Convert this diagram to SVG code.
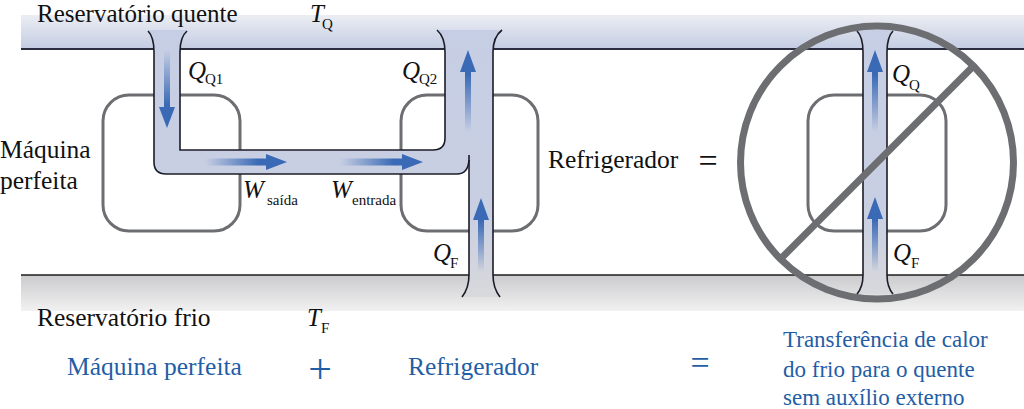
<svg xmlns="http://www.w3.org/2000/svg" width="1024" height="409" viewBox="0 0 1024 409">
<defs>
<linearGradient id="hotG" x1="0" y1="0" x2="0" y2="1"><stop offset="0" stop-color="#eceef3"/><stop offset="1" stop-color="#c3cce2"/></linearGradient>
<linearGradient id="coldG" x1="0" y1="0" x2="0" y2="1"><stop offset="0" stop-color="#cbcbcd"/><stop offset="1" stop-color="#f1f1f2"/></linearGradient>
<linearGradient id="pipeG" gradientUnits="userSpaceOnUse" x1="0" y1="0" x2="0" y2="300"><stop offset="0" stop-color="#c6cee5"/><stop offset="0.7" stop-color="#c8cfe2"/><stop offset="1" stop-color="#d9d9dc"/></linearGradient>
<linearGradient id="aUp" x1="0" y1="1" x2="0" y2="0"><stop offset="0" stop-color="#3a6ab5" stop-opacity="0"/><stop offset="0.7" stop-color="#3a6ab5"/><stop offset="1" stop-color="#3a6ab5"/></linearGradient>
<linearGradient id="aDown" x1="0" y1="0" x2="0" y2="1"><stop offset="0" stop-color="#3a6ab5" stop-opacity="0"/><stop offset="0.7" stop-color="#3a6ab5"/><stop offset="1" stop-color="#3a6ab5"/></linearGradient>
<linearGradient id="aRight" x1="0" y1="0" x2="1" y2="0"><stop offset="0" stop-color="#3a6ab5" stop-opacity="0"/><stop offset="0.65" stop-color="#3a6ab5"/><stop offset="1" stop-color="#3a6ab5"/></linearGradient>
</defs>

<g id="hot-reservoir" font-family="Liberation Serif, serif" fill="#111">
<rect x="21" y="15" width="1003" height="34" fill="url(#hotG)"/>
<line x1="21" y1="49" x2="1024" y2="49" stroke="#2a2d40" stroke-width="2"/>
<text x="37" y="22" font-size="25">Reservatório quente</text>
<text x="310" y="22" font-size="25" font-style="italic">T</text><text x="322" y="29" font-size="15">Q</text>
</g>

<g id="cold-reservoir" font-family="Liberation Serif, serif" fill="#111">
<rect x="21" y="275" width="1003" height="36" fill="url(#coldG)"/>
<line x1="21" y1="275" x2="1024" y2="275" stroke="#1c1c1c" stroke-width="1.6"/>
<text x="37" y="326" font-size="25.5">Reservatório frio</text>
<text x="307" y="326" font-size="25" font-style="italic">T</text><text x="321" y="333" font-size="15">F</text>
</g>

<g id="engine" font-family="Liberation Serif, serif" fill="#111">
<rect x="103" y="95" width="137" height="136" rx="26" fill="none" stroke="#6d6e71" stroke-width="3"/>
<text x="0" y="158" font-size="25.5">Máquina</text>
<text x="0" y="189" font-size="25.5">perfeita</text>
</g>

<g id="refrigerator" font-family="Liberation Serif, serif" fill="#111">
<rect x="401" y="95" width="137" height="136" rx="26" fill="none" stroke="#6d6e71" stroke-width="3"/>
<text x="548" y="168" font-size="25.5">Refrigerador</text>
<text x="708" y="172" font-size="34" text-anchor="middle">=</text>
</g>

<g id="impossible-refrigerator">
<rect x="808" y="95" width="138" height="136" rx="26" fill="none" stroke="#6d6e71" stroke-width="3"/>
</g>

<g id="connectors">
<g fill="url(#pipeG)">
<path d="M148,30 Q154,37 154,52 L154,162 Q154,174 166,174 L457,174 Q469,174 469,162 L469,275 Q469,288 462,297 L500,297 Q493,288 493,275 L493,52 Q493,37 502,30 L437,30 Q445,37 445,52 L445,138 Q445,150 433,150 L180,150 L180,52 Q180,37 187,30 Z"/>
<path d="M857,30 Q863,37 863,52 L863,275 Q863,287 857,294 L893,294 Q887,287 887,275 L887,52 Q887,37 893,30 Z"/>
</g>
<g fill="none" stroke="#1c1c28" stroke-width="1.6">
<path d="M148,31 Q154,37 154,52 L154,162 Q154,174 166,174 L457,174 Q468,174 469,160"/>
<path d="M469,155 L469,275 Q469,288 462,297"/>
<path d="M502,30 Q493,37 493,52 L493,275 Q493,288 500,297"/>
<path d="M437,30 Q445,37 445,52 L445,138 Q445,150 433,150 L180,150 L180,52 Q180,37 187,31"/>
<path d="M857,31 Q863,37 863,52 L863,275 Q863,287 857,294"/>
<path d="M893,31 Q887,37 887,52 L887,275 Q887,287 893,294"/>
</g>
<path fill="url(#aDown)" d="M164,50 L170,50 L170,107 L175,107 L167,128 L159,107 L164,107 Z"/>
<path fill="url(#aRight)" d="M205,158.5 L266,158.5 L266,154 L287,162 L266,170 L266,165.5 L205,165.5 Z"/>
<path fill="url(#aRight)" d="M340,158.5 L402,158.5 L402,154 L423,162 L402,170 L402,165.5 L340,165.5 Z"/>
<path fill="url(#aUp)" d="M465,132 L471,132 L471,72 L476,72 L468,50 L460,72 L465,72 Z"/>
<path fill="url(#aUp)" d="M478,272 L484,272 L484,220 L489,220 L481,198 L473,220 L478,220 Z"/>
<path fill="url(#aUp)" d="M872,132 L878,132 L878,72 L883,72 L875,50 L867,72 L872,72 Z"/>
<path fill="url(#aUp)" d="M872,272 L878,272 L878,219 L883,219 L875,197 L867,219 L872,219 Z"/>
</g>

<g id="labels" font-family="Liberation Serif, serif" fill="#111">
<text x="188" y="79" font-size="25" font-style="italic">Q</text><text x="205" y="84" font-size="15">Q1</text>
<text x="402" y="79" font-size="25" font-style="italic">Q</text><text x="419" y="84" font-size="15">Q2</text>
<text x="243" y="198" font-size="25" font-style="italic">W</text><text x="267" y="205" font-size="15">saída</text>
<text x="331" y="198" font-size="25" font-style="italic">W</text><text x="352" y="205" font-size="15">entrada</text>
<text x="433" y="261" font-size="25" font-style="italic">Q</text><text x="450" y="268" font-size="15">F</text>
<text x="892" y="82" font-size="25" font-style="italic">Q</text><text x="909" y="90" font-size="15">Q</text>
<text x="893" y="261" font-size="25" font-style="italic">Q</text><text x="911" y="268" font-size="15">F</text>
</g>

<g id="prohibition" fill="none" stroke="#6d6e71" stroke-width="7">
<circle cx="877" cy="162.5" r="136.5"/>
<line x1="973.5" y1="66" x2="780.5" y2="259"/>
</g>

<g id="equation" font-family="Liberation Serif, serif" fill="#1f5ea6" font-size="25.5">
<text x="320" y="383" font-size="42" text-anchor="middle">+</text>
<text x="67" y="375">Máquina perfeita</text>
<text x="408" y="375">Refrigerador</text>
<text x="700" y="374" font-size="34" text-anchor="middle">=</text>
<text x="783" y="347" font-size="23">Transferência de calor</text>
<text x="783" y="377" font-size="23">do frio para o quente</text>
<text x="783" y="405" font-size="23">sem auxílio externo</text>
</g>
</svg>
